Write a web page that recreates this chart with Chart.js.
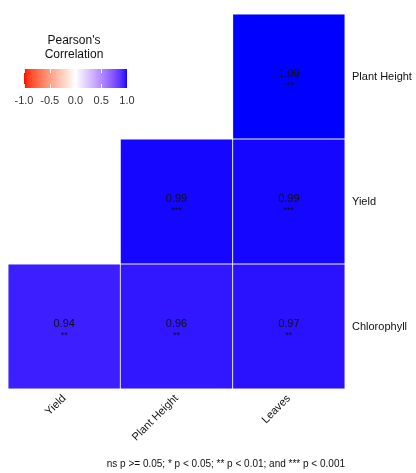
<!DOCTYPE html>
<html>
<head>
<meta charset="utf-8">
<script src="https://cdn.jsdelivr.net/npm/chart.js@4"></script>
<style>
  html, body { margin: 0; padding: 0; background: #fff; }
  #wrap { width: 416px; height: 473px; }
</style>
</head>
<body>
<div id="wrap"><canvas id="myChart" width="416" height="473"></canvas></div>
<script>
// columns (x) and rows (y, bottom to top)
const xLabels = ['Yield', 'Plant Height', 'Leaves'];
const yLabels = ['Chlorophyll', 'Yield', 'Plant Height'];

// correlation per row, one entry per column (null = empty cell)
const chlorophyllR = [0.94, 0.96, 0.97];
const yieldR = [null, 0.99, 0.99];
const plantHeightR = [null, null, 1.00];

const chlorophyllSig = ['**', '**', '**'];
const yieldSig = [null, '***', '***'];
const plantHeightSig = [null, null, '***'];

const legendTicks = [-1.0, -0.5, 0.0, 0.5, 1.0];
const caption = 'ns p >= 0.05; * p < 0.05; ** p < 0.01; and *** p < 0.001';

// colour scale: red - white - blue, interpolated in Lab
function toLin(c) { c /= 255; return c <= 0.04045 ? c / 12.92 : Math.pow((c + 0.055) / 1.055, 2.4); }
function fromLin(c) { c = c <= 0.0031308 ? 12.92 * c : 1.055 * Math.pow(c, 1 / 2.4) - 0.055; return Math.max(0, Math.min(255, Math.round(c * 255))); }
function rgb2lab(r, g, b) {
  r = toLin(r); g = toLin(g); b = toLin(b);
  let x = (r * 0.4124 + g * 0.3576 + b * 0.1805) / 0.95047;
  let y = (r * 0.2126 + g * 0.7152 + b * 0.0722);
  let z = (r * 0.0193 + g * 0.1192 + b * 0.9505) / 1.08883;
  const f = t => t > 0.008856 ? Math.cbrt(t) : 7.787 * t + 16 / 116;
  x = f(x); y = f(y); z = f(z);
  return [116 * y - 16, 500 * (x - y), 200 * (y - z)];
}
function lab2rgb(L, a, bb) {
  let y = (L + 16) / 116, x = a / 500 + y, z = y - bb / 200;
  const fi = t => t * t * t > 0.008856 ? t * t * t : (t - 16 / 116) / 7.787;
  x = fi(x) * 0.95047; y = fi(y); z = fi(z) * 1.08883;
  const r = x * 3.2406 + y * -1.5372 + z * -0.4986;
  const g = x * -0.9689 + y * 1.8758 + z * 0.0415;
  const b = x * 0.0557 + y * -0.2040 + z * 1.0570;
  return [fromLin(r), fromLin(g), fromLin(b)];
}
const labRed = rgb2lab(255, 0, 0), labWhite = rgb2lab(255, 255, 255), labBlue = rgb2lab(0, 0, 255);
function corrColor(v) {
  const end = v < 0 ? labRed : labBlue;
  const t = Math.min(1, Math.abs(v));
  const c = lab2rgb(labWhite[0] + (end[0] - labWhite[0]) * t,
                    labWhite[1] + (end[1] - labWhite[1]) * t,
                    labWhite[2] + (end[2] - labWhite[2]) * t);
  return 'rgb(' + c[0] + ',' + c[1] + ',' + c[2] + ')';
}

function rowData(vals, row) {
  return vals.map(v => v === null ? null : [row, row + 1]);
}
const rows = [
  { r: chlorophyllR, s: chlorophyllSig },
  { r: yieldR, s: yieldSig },
  { r: plantHeightR, s: plantHeightSig }
];

const cellText = {
  id: 'cellText',
  afterDatasetsDraw(chart) {
    const ctx = chart.ctx;
    ctx.save();
    ctx.fillStyle = '#111';
    ctx.textAlign = 'center';
    ctx.textBaseline = 'middle';
    chart.data.datasets.forEach((ds, i) => {
      chart.getDatasetMeta(i).data.forEach((bar, j) => {
        const v = rows[i].r[j];
        if (v === null) return;
        const cx = bar.x, cy = (bar.y + bar.base) / 2;
        ctx.font = '11px "Liberation Sans", Arial, sans-serif';
        ctx.fillText(v.toFixed(2), cx, cy - 3);
        ctx.font = '9px "Liberation Sans", Arial, sans-serif';
        ctx.fillText(rows[i].s[j], cx, cy + 9);
      });
    });
    ctx.restore();
  }
};

const colorBar = {
  id: 'colorBar',
  afterDraw(chart) {
    const ctx = chart.ctx;
    const x0 = 24, x1 = 127, y0 = 69, y1 = 88;
    ctx.save();
    for (let px = x0; px < x1; px++) {
      const v = -1 + 2 * (px + 0.5 - x0) / (x1 - x0);
      ctx.fillStyle = corrColor(v);
      ctx.fillRect(px, y0, 1, y1 - y0);
    }
    ctx.strokeStyle = 'rgba(255,255,255,0.9)';
    ctx.lineWidth = 1;
    legendTicks.forEach(t => {
      const x = Math.round(x0 + (t + 1) / 2 * (x1 - x0)) + 0.5;
      ctx.beginPath();
      ctx.moveTo(x, y0); ctx.lineTo(x, y0 + 4);
      ctx.moveTo(x, y1 - 4); ctx.lineTo(x, y1);
      ctx.stroke();
    });
    ctx.fillStyle = '#333';
    ctx.textAlign = 'center';
    ctx.textBaseline = 'middle';
    ctx.font = '11px "Liberation Sans", Arial, sans-serif';
    legendTicks.forEach(t => {
      const x = x0 + (t + 1) / 2 * (x1 - x0);
      ctx.fillText(t.toFixed(1), x, 101);
    });
    ctx.fillStyle = '#111';
    ctx.font = '12px "Liberation Sans", Arial, sans-serif';
    ctx.fillText("Pearson's", 74, 41);
    ctx.fillText('Correlation', 74, 55);
    ctx.restore();
  }
};

const config = {
  type: 'bar',
  data: {
    labels: xLabels,
    datasets: rows.map((row, i) => ({
      label: yLabels[i],
      data: rowData(row.r, i),
      backgroundColor: row.r.map(v => v === null ? 'rgba(0,0,0,0)' : corrColor(v)),
      borderColor: 'rgba(225,225,255,0.4)',
      borderWidth: 0.8,
      borderSkipped: false,
      barPercentage: 1,
      categoryPercentage: 1,
      grouped: false
    }))
  },
  options: {
    responsive: false,
    animation: false,
    layout: { padding: { left: 8, top: 14, right: 0, bottom: 0 } },
    plugins: {
      legend: { display: false },
      tooltip: { enabled: false },
      subtitle: {
        display: true,
        text: caption,
        position: 'bottom',
        align: 'end',
        fullSize: false,
        color: '#111',
        font: { family: '"Liberation Sans", Arial, sans-serif', size: 10, weight: 'normal' },
        padding: { top: 2, bottom: 3 }
      }
    },
    scales: {
      x: {
        grid: { display: false, drawTicks: false },
        border: { display: false },
        ticks: {
          minRotation: 45, maxRotation: 45, padding: 3,
          color: '#111',
          font: { family: '"Liberation Sans", Arial, sans-serif', size: 11 }
        },
        afterFit(scale) { scale.height = 67; }
      },
      y: {
        position: 'right',
        min: 0, max: 3,
        grid: { display: false, drawTicks: false },
        border: { display: false },
        afterBuildTicks(scale) {
          scale.ticks = yLabels.map((l, i) => ({ value: i + 0.5 }));
        },
        ticks: {
          padding: 7,
          color: '#111',
          font: { family: '"Liberation Sans", Arial, sans-serif', size: 11 },
          callback: (v) => yLabels[Math.floor(v)]
        },
        afterFit(scale) { scale.width = 71; }
      }
    }
  },
  plugins: [cellText, colorBar]
};

const myChart = new Chart(document.getElementById('myChart'), config);
</script>
</body>
</html>
